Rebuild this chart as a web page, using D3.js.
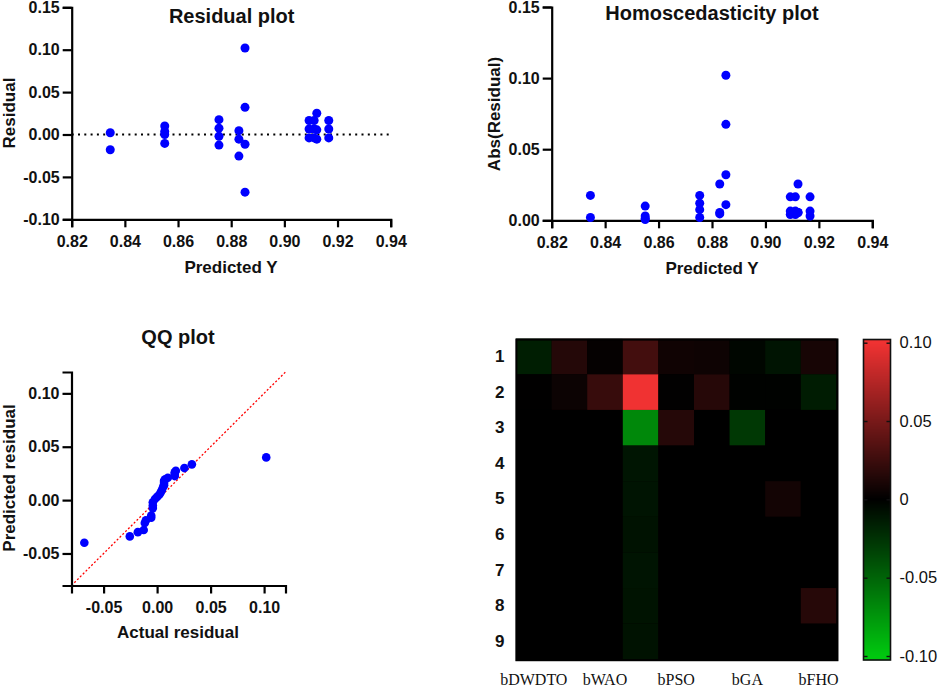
<!DOCTYPE html>
<html>
<head>
<meta charset="utf-8">
<script src="https://cdn.jsdelivr.net/npm/d3@7"></script>
<style>
  html, body { margin: 0; padding: 0; background: #fff; }
  svg { display: block; }
  text { font-family: "Liberation Sans", Arial, sans-serif; fill: #111; }
</style>
</head>
<body>
<svg id="chart" width="941" height="687"></svg>
<script>
// Residual plot
const predictedY = [
  0.8345, 0.8345,
  0.855, 0.855, 0.855, 0.855,
  0.8754, 0.8754, 0.8754, 0.8754,
  0.8829, 0.8829, 0.8829,
  0.8852, 0.8852, 0.8852, 0.8852,
  0.9093, 0.9093, 0.9093,
  0.9112, 0.9112, 0.9112,
  0.9122, 0.9122, 0.9122,
  0.9167, 0.9167, 0.9167
];
const residuals = [
  0.002, -0.018,
  0.010, 0.0035, 0.0, -0.0105,
  0.0175, 0.0075, -0.002, -0.0125,
  0.0045, -0.0055, -0.0255,
  0.102, 0.032, -0.0115, -0.068,
  0.0165, 0.0065, -0.004,
  0.0165, 0.0065, -0.004,
  0.025, 0.0055, -0.0055,
  0.0165, 0.0065, -0.004
];
const absResiduals = [
  0.002, 0.0175,
  0.010, 0.003, 0.0005, 0.0015,
  0.0175, 0.0075, 0.002, 0.012,
  0.0045, 0.0055, 0.0255,
  0.102, 0.032, 0.011, 0.0675,
  0.0165, 0.0065, 0.004,
  0.0165, 0.0065, 0.004,
  0.0255, 0.0055, 0.0055,
  0.0165, 0.0065, 0.003
];

// QQ plot
const actualResidual = [
  -0.068, -0.0255, -0.018, -0.0125, -0.0115, -0.0105, -0.0055, -0.0055, -0.004, -0.004,
  -0.004, -0.002, 0.0, 0.002, 0.0035, 0.0045, 0.0055, 0.0065, 0.0065, 0.0065,
  0.0075, 0.010, 0.0165, 0.0165, 0.0165, 0.0175, 0.0255, 0.0325, 0.102
];
const predictedResidual = [
  -0.040, -0.034, -0.030, -0.028, -0.0215, -0.019, -0.0165, -0.0145, -0.0075, -0.005,
  -0.002, 0.001, 0.003, 0.005, 0.0075, 0.0095, 0.012, 0.014, 0.016, 0.018,
  0.0195, 0.021, 0.0225, 0.0245, 0.026, 0.0275, 0.030, 0.0335, 0.040
];

// Heatmap
const heatColumns = ["bDWDTO", "c2", "bWAO", "c4", "bPSO", "c6", "bGA", "c8", "bFHO"];
const heatRows = ["1", "2", "3", "4", "5", "6", "7", "8", "9"];
const heatValues = [
  [-0.015, 0.015, 0.002, 0.028, 0.0065, 0.006, -0.003, -0.01, 0.0095],
  [0.0005, 0.005, 0.023, 0.102, 0.001, 0.016, -0.001, -0.001, -0.014],
  [0, 0, 0, -0.068, 0.0155, 0, -0.028, 0, 0],
  [0, 0, 0, -0.0105, 0, 0, 0, 0, 0],
  [0, 0, 0, -0.01, 0, 0, 0, 0.008, 0],
  [0, 0, 0, -0.009, 0, 0, 0, 0, 0],
  [0, 0, 0, -0.01, 0, 0, 0, 0, 0],
  [0, 0, 0, -0.0095, 0, 0, 0, 0, 0.016],
  [0, 0, 0, -0.009, 0, 0, 0, 0, 0]
];
const colorbarTicks = [0.10, 0.05, 0, -0.05, -0.10];

const xTicks = [0.82, 0.84, 0.86, 0.88, 0.90, 0.92, 0.94];
const residualTicks = [-0.10, -0.05, 0.00, 0.05, 0.10, 0.15];
const absTicks = [0.00, 0.05, 0.10, 0.15];
const qqTicksX = [-0.05, 0.00, 0.05, 0.10];
const qqTicksY = [-0.05, 0.00, 0.05, 0.10];

const BLUE = "#0000ff";
const svg = d3.select("#chart");

const fmt = (d) => d3.format(".2f")(d).replace("\u2212", "-");

// heavy black axes with bold tick labels, the look of all three scatter panels
function styleAxis(g) {
  g.selectAll(".domain").attr("stroke", "#000").attr("stroke-width", 2.2);
  g.selectAll(".tick line").attr("stroke", "#000").attr("stroke-width", 2.2);
  g.selectAll(".tick text")
    .style("font-family", '"Liberation Sans", Arial, sans-serif')
    .style("font-size", "16px")
    .style("font-weight", "bold")
    .attr("fill", "#111");
}

function label(x, y, text, size, rotate) {
  const t = svg.append("text")
    .attr("text-anchor", "middle")
    .style("font-size", size + "px")
    .style("font-weight", "bold")
    .text(text);
  if (rotate) t.attr("transform", `translate(${x},${y}) rotate(-90)`);
  else t.attr("x", x).attr("y", y);
}

function scatter(cfg) {
  const x = d3.scaleLinear().domain(cfg.xDomain).range(cfg.xRange);
  const y = d3.scaleLinear().domain(cfg.yDomain).range(cfg.yRange);

  if (cfg.underlay) cfg.underlay(x, y);

  svg.append("g")
    .attr("transform", `translate(0,${cfg.yRange[0]})`)
    .call(d3.axisBottom(x).tickValues(cfg.xTicks).tickFormat(fmt).tickSizeOuter(0).tickSize(8).tickPadding(8))
    .call(styleAxis);

  svg.append("g")
    .attr("transform", `translate(${cfg.xRange[0]},0)`)
    .call(d3.axisLeft(y).tickValues(cfg.yTicks).tickFormat(fmt).tickSizeOuter(0).tickSize(9).tickPadding(3))
    .call(styleAxis);

  svg.append("g")
    .selectAll("circle")
    .data(cfg.xs)
    .enter()
    .append("circle")
    .attr("cx", (d) => x(d))
    .attr("cy", (d, i) => y(cfg.ys[i]))
    .attr("r", cfg.r)
    .attr("fill", BLUE);
}

// Residual plot
scatter({
  xs: predictedY, ys: residuals, r: 4.5,
  xDomain: [0.82, 0.94], xRange: [71.7, 390.7],
  yDomain: [-0.10, 0.15], yRange: [219.3, 7.3],
  xTicks: xTicks, yTicks: residualTicks,
  underlay: (x, y) => {
    svg.append("line")
      .attr("x1", x(0.82)).attr("x2", x(0.94))
      .attr("y1", y(0)).attr("y2", y(0))
      .attr("stroke", "#000")
      .attr("stroke-width", 2)
      .attr("stroke-dasharray", "2 4.3");
  }
});
label(231.7, 23, "Residual plot", 20);
label(231, 272.5, "Predicted Y", 17);
label(15, 113, "Residual", 17, true);

// Homoscedasticity plot
scatter({
  xs: predictedY, ys: absResiduals, r: 4.5,
  xDomain: [0.82, 0.94], xRange: [551.7, 872.3],
  yDomain: [0, 0.15], yRange: [220.3, 7],
  xTicks: xTicks, yTicks: absTicks
});
label(712, 20, "Homoscedasticity plot", 20);
label(712, 274, "Predicted Y", 17);
label(500, 114, "Abs(Residual)", 17, true);

// QQ plot
scatter({
  xs: actualResidual, ys: predictedResidual, r: 4.3,
  xDomain: [-0.08, 0.12], xRange: [71.5, 285.5],
  yDomain: [-0.08, 0.12], yRange: [585.5, 372],
  xTicks: qqTicksX, yTicks: qqTicksY,
  underlay: (x, y) => {
    svg.append("line")
      .attr("x1", x(-0.08)).attr("x2", x(0.12))
      .attr("y1", y(-0.08)).attr("y2", y(0.12))
      .attr("stroke", "#ff0000")
      .attr("stroke-width", 1.3)
      .attr("stroke-dasharray", "2 2");
  }
});
label(178, 344, "QQ plot", 20);
label(178, 638, "Actual residual", 17);
label(15, 478, "Predicted residual", 17, true);

// Heatmap
const color = d3.scaleLinear()
  .domain([-0.1, 0, 0.1])
  .range(["rgb(0,200,15)", "rgb(0,0,0)", "rgb(240,50,50)"])
  .clamp(true);

const hx = d3.scaleBand().domain(heatColumns).range([516, 836.4]);
const hy = d3.scaleBand().domain(heatRows).range([338.7, 659.3]);

svg.append("rect")
  .attr("x", hx.range()[0]).attr("y", hy.range()[0])
  .attr("width", 322).attr("height", 322)
  .attr("fill", "#000")
  .attr("stroke", "#aaa")
  .attr("stroke-width", 0.8);

const rowGroups = svg.append("g")
  .selectAll("g")
  .data(heatValues)
  .enter()
  .append("g");

rowGroups.selectAll("rect")
  .data((d, i) => d.map((v, j) => ({ v: v, row: heatRows[i], col: heatColumns[j] })))
  .enter()
  .append("rect")
  .attr("x", (d) => hx(d.col))
  .attr("y", (d) => hy(d.row))
  .attr("width", hx.bandwidth())
  .attr("height", hy.bandwidth())
  .attr("fill", (d) => color(d.v));

// black band the frame leaves over the first row and column
svg.append("rect")
  .attr("x", 516.4).attr("y", 339.6)
  .attr("width", 321).attr("height", 320.6)
  .attr("fill", "none")
  .attr("stroke", "#000")
  .attr("stroke-width", 2);

svg.append("g")
  .attr("transform", "translate(507.5,0)")
  .call(d3.axisLeft(hy).tickSize(0).tickPadding(3))
  .call((g) => g.select(".domain").remove())
  .call((g) => g.selectAll(".tick text")
    .style("font-family", '"Liberation Sans", Arial, sans-serif')
    .style("font-size", "17px")
    .style("font-weight", "bold")
    .attr("fill", "#111"));

svg.append("g")
  .attr("transform", "translate(0,673.6)")
  .call(d3.axisBottom(hx).tickSize(0).tickPadding(0)
    .tickFormat((d) => (d.startsWith("b") ? d : "")))
  .call((g) => g.select(".domain").remove())
  .call((g) => g.selectAll(".tick text")
    .style("font-family", '"Liberation Serif", "Times New Roman", serif')
    .style("font-size", "16px")
    .attr("fill", "#222"));

// Colorbar
const barX = 863.5;
const barW = 27;
const cy = d3.scaleLinear().domain([-0.1, 0.1]).range([656, 342.7]);
const strips = d3.range(339, 660, 1);

svg.append("g")
  .selectAll("rect")
  .data(strips)
  .enter()
  .append("rect")
  .attr("x", barX)
  .attr("y", (d) => d)
  .attr("width", barW)
  .attr("height", 1.2)
  .attr("fill", (d) => color(cy.invert(d + 0.5)));

svg.append("rect")
  .attr("x", barX).attr("y", 339.5)
  .attr("width", barW).attr("height", 320.5)
  .attr("fill", "none")
  .attr("stroke", "#111")
  .attr("stroke-width", 1.6);

const barFmt = (d) => (d === 0 ? "0" : fmt(d));

svg.append("g")
  .attr("transform", `translate(${barX},0)`)
  .call(d3.axisRight(cy).tickValues(colorbarTicks).tickFormat("").tickSize(4).tickSizeOuter(0))
  .call((g) => g.select(".domain").remove())
  .call((g) => g.selectAll(".tick line").attr("stroke", "#111").attr("stroke-width", 1.4));

svg.append("g")
  .attr("transform", `translate(${barX + barW},0)`)
  .call(d3.axisLeft(cy).tickValues(colorbarTicks).tickFormat("").tickSize(4).tickSizeOuter(0))
  .call((g) => g.select(".domain").remove())
  .call((g) => g.selectAll(".tick line").attr("stroke", "#111").attr("stroke-width", 1.4));

svg.append("g")
  .attr("transform", `translate(${barX + barW},0)`)
  .call(d3.axisRight(cy).tickValues(colorbarTicks).tickFormat(barFmt).tickSize(0).tickPadding(9))
  .call((g) => g.select(".domain").remove())
  .call((g) => g.selectAll(".tick text")
    .style("font-family", '"Liberation Sans", Arial, sans-serif')
    .style("font-size", "16.5px")
    .attr("fill", "#222"));
</script>
</body>
</html>
